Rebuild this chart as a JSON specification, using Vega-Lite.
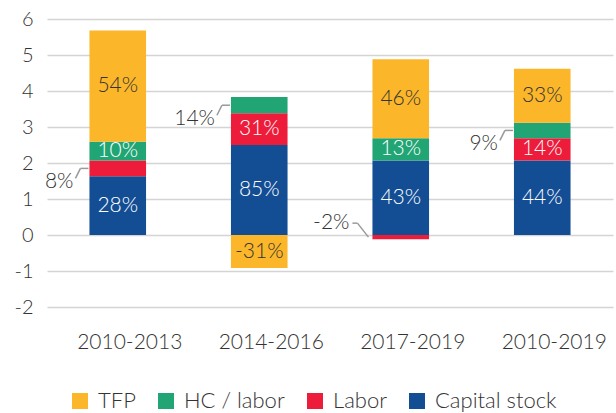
{
  "$schema": "https://vega.github.io/schema/vega-lite/v6.json",
  "width": 566,
  "height": 288,
  "autosize": {"type": "none"},
  "padding": {"left": 47, "top": 19, "right": 3, "bottom": 106},
  "background": "white",
  "config": {
    "view": {"stroke": null},
    "font": "Lato",
    "axis": {
      "domain": false,
      "ticks": false,
      "labelFont": "Lato",
      "labelFontWeight": 300,
      "labelColor": "#333333",
      "gridColor": "#d4d4d4",
      "gridWidth": 1.5,
      "title": null
    },
    "legend": {
      "labelFont": "Lato",
      "labelFontWeight": 300,
      "labelColor": "#333333"
    },
    "text": {"fontWeight": 300}
  },
  "data": {
    "values": [
      {"period": "2010-2013", "series": "Capital stock", "rank": 1, "value": 1.63, "share": 28},
      {"period": "2010-2013", "series": "Labor", "rank": 2, "value": 0.44, "share": 8},
      {"period": "2010-2013", "series": "HC / labor", "rank": 3, "value": 0.52, "share": 10},
      {"period": "2010-2013", "series": "TFP", "rank": 4, "value": 3.09, "share": 54},
      {"period": "2014-2016", "series": "Capital stock", "rank": 1, "value": 2.5, "share": 85},
      {"period": "2014-2016", "series": "Labor", "rank": 2, "value": 0.88, "share": 31},
      {"period": "2014-2016", "series": "HC / labor", "rank": 3, "value": 0.45, "share": 14},
      {"period": "2014-2016", "series": "TFP", "rank": 4, "value": -0.92, "share": -31},
      {"period": "2017-2019", "series": "Capital stock", "rank": 1, "value": 2.07, "share": 43},
      {"period": "2017-2019", "series": "Labor", "rank": 2, "value": -0.12, "share": -2},
      {"period": "2017-2019", "series": "HC / labor", "rank": 3, "value": 0.62, "share": 13},
      {"period": "2017-2019", "series": "TFP", "rank": 4, "value": 2.19, "share": 46},
      {"period": "2010-2019", "series": "Capital stock", "rank": 1, "value": 2.07, "share": 44},
      {"period": "2010-2019", "series": "Labor", "rank": 2, "value": 0.62, "share": 14},
      {"period": "2010-2019", "series": "HC / labor", "rank": 3, "value": 0.43, "share": 9},
      {"period": "2010-2019", "series": "TFP", "rank": 4, "value": 1.5, "share": 33}
    ]
  },
  "transform": [
    {"stack": "value", "groupby": ["period"], "sort": [{"field": "rank", "order": "ascending"}], "as": ["v0", "v1"]},
    {"calculate": "(datum.v0 + datum.v1) / 2", "as": "mid"},
    {"calculate": "datum.share + '%'", "as": "label"}
  ],
  "encoding": {
    "x": {
      "field": "period",
      "type": "nominal",
      "sort": ["2010-2013", "2014-2016", "2017-2019", "2010-2019"],
      "scale": {"paddingInner": 0.6, "paddingOuter": 0.3},
      "axis": {"labelAngle": 0, "labelFontSize": 21, "labelPadding": 24, "labelOffset": 12, "grid": false}
    },
    "y": {
      "field": "mid",
      "type": "quantitative",
      "scale": {"domain": [-2, 6], "nice": false},
      "axis": {
        "values": [-2, -1, 0, 1, 2, 3, 4, 5, 6],
        "labelExpr": "'' + datum.value",
        "labelFontSize": 20,
        "labelPadding": 14,
        "grid": true
      }
    }
  },
  "layer": [
    {
      "mark": {"type": "bar"},
      "encoding": {
        "y": {"field": "v0", "type": "quantitative"},
        "y2": {"field": "v1"},
        "color": {
          "field": "series",
          "type": "nominal",
          "scale": {
            "domain": ["TFP", "HC / labor", "Labor", "Capital stock"],
            "range": ["#fbb62a", "#22a574", "#ec1c3a", "#134e95"]
          },
          "legend": {
            "title": null,
            "orient": "none",
            "direction": "horizontal",
            "legendX": 22,
            "legendY": 371,
            "padding": 0,
            "symbolType": "square",
            "symbolSize": 256,
            "symbolStrokeWidth": 0,
            "symbolOpacity": 1,
            "labelFontSize": 22,
            "labelOffset": 7,
            "columnPadding": 19,
            "labelLimit": 300
          }
        }
      }
    },
    {
      "transform": [{"filter": "abs(datum.value) >= 0.5"}],
      "mark": {"type": "text", "fontSize": 21, "baseline": "middle", "align": "center"},
      "encoding": {
        "text": {"field": "label"},
        "color": {
          "condition": {"test": "datum.series == 'TFP'", "value": "#333333"},
          "value": "#ffffff"
        }
      }
    },
    {
      "transform": [{"filter": "abs(datum.value) < 0.5 && datum.value > 0"}],
      "mark": {"type": "rule", "color": "#9a9a9a", "strokeWidth": 1.5, "xOffset": -9, "x2Offset": -1},
      "encoding": {
        "x": {"field": "period", "type": "nominal", "bandPosition": 0},
        "x2": {"field": "period", "bandPosition": 0}
      }
    },
    {
      "transform": [{"filter": "abs(datum.value) < 0.5 && datum.value > 0"}],
      "mark": {"type": "rule", "color": "#9a9a9a", "strokeWidth": 1.5, "xOffset": -9, "x2Offset": -14, "y2Offset": 10},
      "encoding": {
        "x": {"field": "period", "type": "nominal", "bandPosition": 0},
        "x2": {"field": "period", "bandPosition": 0},
        "y2": {"field": "mid"}
      }
    },
    {
      "transform": [{"filter": "abs(datum.value) < 0.5 && datum.value > 0"}],
      "mark": {"type": "text", "fontSize": 21, "align": "right", "baseline": "middle", "color": "#333333", "xOffset": -16, "dy": 14},
      "encoding": {
        "x": {"field": "period", "type": "nominal", "bandPosition": 0},
        "text": {"field": "label"}
      }
    },
    {
      "transform": [{"filter": "abs(datum.value) < 0.5 && datum.value < 0"}],
      "mark": {"type": "rule", "color": "#9a9a9a", "strokeWidth": 1.5, "xOffset": -4, "x2Offset": -15, "y2Offset": -14},
      "encoding": {
        "x": {"field": "period", "type": "nominal", "bandPosition": 0},
        "x2": {"field": "period", "bandPosition": 0},
        "y2": {"field": "mid"}
      }
    },
    {
      "transform": [{"filter": "abs(datum.value) < 0.5 && datum.value < 0"}],
      "mark": {"type": "rule", "color": "#9a9a9a", "strokeWidth": 1.5, "xOffset": -15, "x2Offset": -20, "yOffset": -14, "y2Offset": -14},
      "encoding": {
        "x": {"field": "period", "type": "nominal", "bandPosition": 0},
        "x2": {"field": "period", "bandPosition": 0},
        "y2": {"field": "mid"}
      }
    },
    {
      "transform": [{"filter": "abs(datum.value) < 0.5 && datum.value < 0"}],
      "mark": {"type": "text", "fontSize": 21, "align": "right", "baseline": "middle", "color": "#333333", "xOffset": -23, "dy": -14},
      "encoding": {
        "x": {"field": "period", "type": "nominal", "bandPosition": 0},
        "text": {"field": "label"}
      }
    }
  ]
}
